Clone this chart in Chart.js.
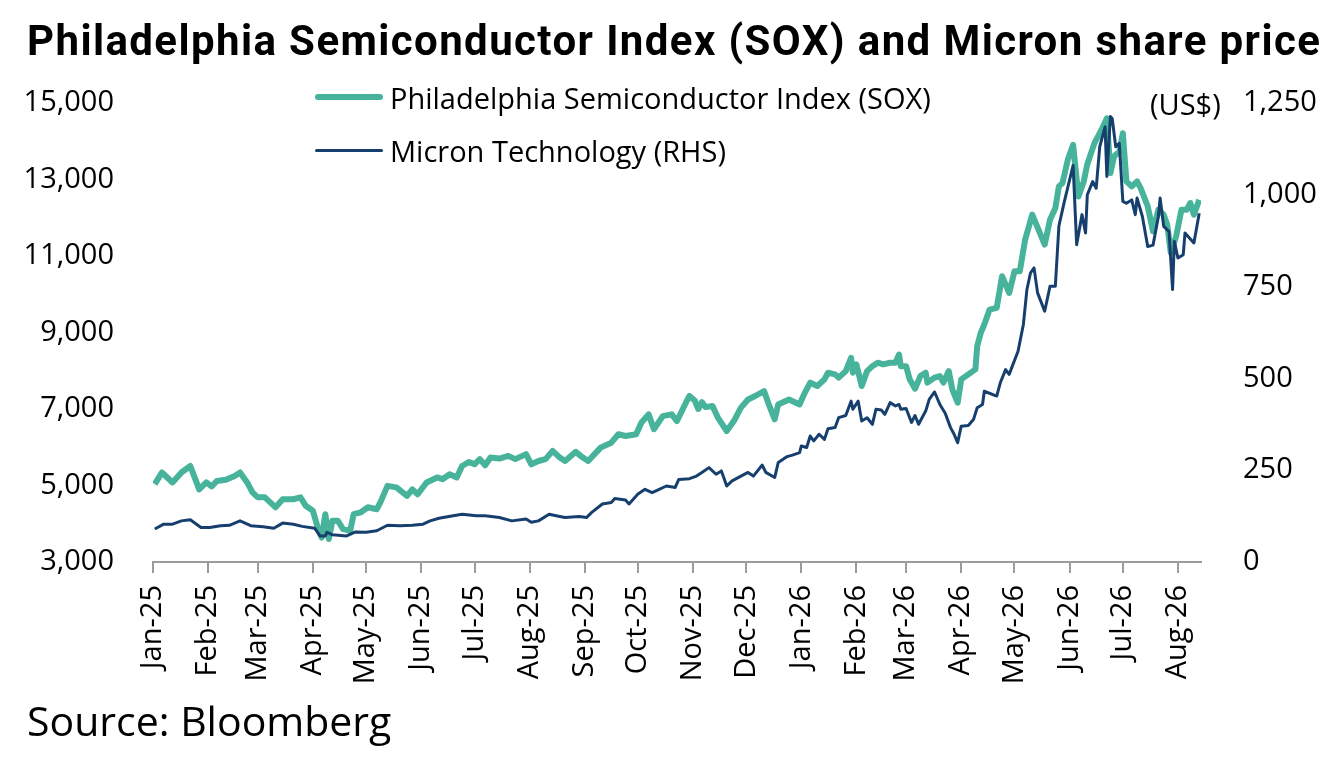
<!DOCTYPE html>
<html>
<head>
<meta charset="utf-8">
<script src="https://cdn.jsdelivr.net/npm/chart.js@4.4.1/dist/chart.umd.min.js"></script>
<style>
  html, body { margin: 0; padding: 0; background: #fff; }
  #wrap { position: relative; width: 1331px; height: 776px; font-family: "Open Sans", sans-serif; color: #000; }
  #chartBox { position: absolute; left: 0; top: 0; width: 1331px; height: 776px; }
  #title { position: absolute; left: 27px; top: 17px; font-family: Roboto, sans-serif; font-weight: 700; font-size: 42px; letter-spacing: 1.4px; line-height: 48px; white-space: nowrap; }
  .leg { position: absolute; left: 315px; height: 40px; display: flex; align-items: center; font-size: 29px; white-space: nowrap; }
  .leg i { display: inline-block; width: 68px; margin-right: 7px; border-radius: 3px; }
  #unit { position: absolute; left: 1150px; top: 84px; font-size: 29px; line-height: 40px; }
  #source { position: absolute; left: 27px; top: 695px; font-size: 41px; line-height: 50px; }
</style>
</head>
<body>
<div id="wrap">
  <div id="chartBox"><canvas id="c"></canvas></div>
  <div id="title">Philadelphia Semiconductor Index (SOX) and Micron share price</div>
  <div class="leg" style="top:77px"><i style="height:6px;background:#48B39B"></i>Philadelphia Semiconductor Index (SOX)</div>
  <div class="leg" style="top:130px"><i style="height:3px;background:#173F6E"></i>Micron Technology (RHS)</div>
  <div id="unit">(US$)</div>
  <div id="source">Source: Bloomberg</div>
</div>
<script>
// x values are days counted from 1 Jan 2025
const monthLabels = ['Jan-25','Feb-25','Mar-25','Apr-25','May-25','Jun-25','Jul-25','Aug-25','Sep-25','Oct-25',
  'Nov-25','Dec-25','Jan-26','Feb-26','Mar-26','Apr-26','May-26','Jun-26','Jul-26','Aug-26'];
const leftTicks = [3000, 5000, 7000, 9000, 11000, 13000, 15000];
const rightTicks = [0, 250, 500, 750, 1000, 1250];

const soxDay = [1,5,11,16,21,26,30,33,36,41,46,49,53,56,59,63,66,69,73,79,83,86,90,93,95,97,99,101,104,107,
  111,113,117,121,126,128,132,137,143,146,149,154,160,163,167,171,174,178,181,184,187,190,195,200,204,210,213,217,221,225,
  229,232,238,242,245,252,258,262,266,272,275,279,282,287,292,295,300,302,305,307,309,311,315,318,323,327,331,335,339,344,
  347,350,352,358,364,367,370,374,378,380,384,386,390,393,394,396,399,402,405,408,411,415,418,420,421,424,426,429,432,435,
  436,440,443,445,448,450,453,455,459,463,464,466,468,471,475,478,482,485,488,491,495,497,502,505,508,510,512,515,518,521,
  524,526,530,534,537,539,541,544,546,548,551,554,556,560,563,566,569,571,573,576,579,582,584,586,589];
const soxValue = [5035,5340,5080,5340,5510,4900,5080,4975,5120,5150,5250,5340,5080,4820,4690,4690,4560,4430,4640,4640,4690,4470,4340,3860,3640,4250,3600,4080,4080,3860,
  3820,4250,4300,4430,4380,4560,4990,4950,4730,4900,4770,5080,5210,5165,5295,5210,5510,5615,5555,5690,5530,5730,5705,5775,5690,5820,5555,5640,5690,5905,
  5730,5640,5880,5730,5640,5990,6120,6340,6295,6340,6645,6860,6470,6815,6860,6685,7165,7340,7220,7000,7180,7050,7080,6775,6425,6685,7035,7250,7340,7470,
  7080,6730,7120,7250,7120,7430,7690,7600,7775,7950,7905,7820,7990,8340,7950,8165,7600,7990,8120,8210,8165,8210,8210,8425,8120,8120,7775,7530,7860,7950,
  7690,7820,7860,7690,7990,7515,7165,7775,7905,8035,8640,8990,9210,9600,9645,10470,10035,10600,10600,11430,12080,11860,11300,11950,12255,12820,12905,13515,13905,12555,
  12950,13400,13950,14300,14600,13170,13600,13730,14210,12950,12820,12950,12775,12300,11645,12210,12080,11820,11080,11515,12210,12210,12385,12080,12470];

const muDay = [1,6,11,16,21,27,32,38,43,49,55,62,68,73,79,84,91,94,97,98,101,109,114,120,126,132,139,146,152,156,
  161,169,174,182,187,195,202,210,213,217,223,229,232,240,244,247,253,258,260,266,268,273,277,281,285,289,294,296,302,306,
  309,313,317,320,323,326,331,335,338,343,345,350,352,357,360,364,365,368,370,372,375,378,380,384,386,390,393,394,397,399,
  402,405,407,410,412,415,418,420,421,424,427,429,431,435,437,440,443,446,449,451,453,455,459,462,464,467,468,475,477,480,
  482,487,490,492,494,496,498,502,505,508,510,513,518,520,523,525,526,529,531,533,536,537,539,540,542,544,546,548,551,553,
  554,557,560,563,566,567,569,572,574,575,577,580,581,586,589];
const muValue = [90,103,103,112,115,94,94,99,100,112,99,96,92,106,103,97,92,71,71,81,74,71,82,81,85,100,99,100,103,112,
  119,126,130,126,126,121,112,117,108,112,130,124,121,124,121,135,158,162,173,169,158,185,198,189,198,207,203,225,227,234,
  244,257,239,248,207,221,234,244,234,264,244,230,271,287,291,298,316,312,343,330,348,334,363,366,393,399,438,416,438,384,
  393,375,416,414,402,434,425,429,416,418,380,399,375,411,443,463,429,405,366,348,325,370,372,389,420,429,465,452,488,524,
  511,574,647,742,787,801,733,683,751,751,915,980,1080,864,946,896,1000,1036,1018,1131,1185,1050,1213,1208,1131,1140,982,977,986,946,
  991,941,859,863,941,991,914,900,742,873,828,837,896,869,950];

const lastDay = 590;
const base = Date.UTC(2025, 0, 1);
const monthStarts = monthLabels.map((m, i) => (Date.UTC(2025, i, 1) - base) / 86400000);

const tickFont = { family: 'Open Sans', size: 29 };
const gray = '#9B9B9B';

new Chart(document.getElementById('c'), {
  type: 'line',
  data: {
    datasets: [
      {
        label: 'Micron Technology (RHS)',
        data: muDay.map((d, i) => ({ x: d, y: muValue[i] })),
        yAxisID: 'y1',
        borderColor: '#173F6E',
        borderWidth: 3,
        pointRadius: 0,
        borderJoinStyle: 'round',
        order: 1
      },
      {
        label: 'Philadelphia Semiconductor Index (SOX)',
        data: soxDay.map((d, i) => ({ x: d, y: soxValue[i] })),
        yAxisID: 'y',
        borderColor: '#48B39B',
        borderWidth: 6,
        pointRadius: 0,
        borderJoinStyle: 'round',
        order: 2
      }
    ]
  },
  options: {
    responsive: true,
    maintainAspectRatio: false,
    animation: false,
    layout: { padding: { top: 103, left: 0, right: 0, bottom: 0 } },
    plugins: { legend: { display: false }, tooltip: { enabled: false } },
    scales: {
      x: {
        type: 'linear',
        min: 0,
        max: lastDay,
        afterBuildTicks: (s) => { s.ticks = monthStarts.map(v => ({ value: v })); },
        afterFit: (s) => { s.height = 214; },
        ticks: {
          autoSkip: false,
          minRotation: 90,
          maxRotation: 90,
          padding: 12,
          color: '#000',
          font: tickFont,
          callback: (v) => monthLabels[monthStarts.indexOf(v)]
        },
        grid: { drawOnChartArea: false, drawTicks: true, tickLength: 11, color: gray, lineWidth: 2 },
        border: { display: true, color: gray, width: 2 }
      },
      y: {
        position: 'left',
        min: leftTicks[0],
        max: leftTicks[leftTicks.length - 1],
        afterBuildTicks: (s) => { s.ticks = leftTicks.map(v => ({ value: v })); },
        afterFit: (s) => { s.width = 153; },
        ticks: { padding: 31, color: '#000', font: tickFont, callback: (v) => v.toLocaleString('en-US') },
        grid: { display: false },
        border: { display: false }
      },
      y1: {
        position: 'right',
        min: rightTicks[0],
        max: rightTicks[rightTicks.length - 1],
        afterBuildTicks: (s) => { s.ticks = rightTicks.map(v => ({ value: v })); },
        afterFit: (s) => { s.width = 130; },
        ticks: { padding: 34, color: '#000', font: tickFont, callback: (v) => v.toLocaleString('en-US') },
        grid: { display: false },
        border: { display: false }
      }
    }
  }
});
</script>
</body>
</html>
